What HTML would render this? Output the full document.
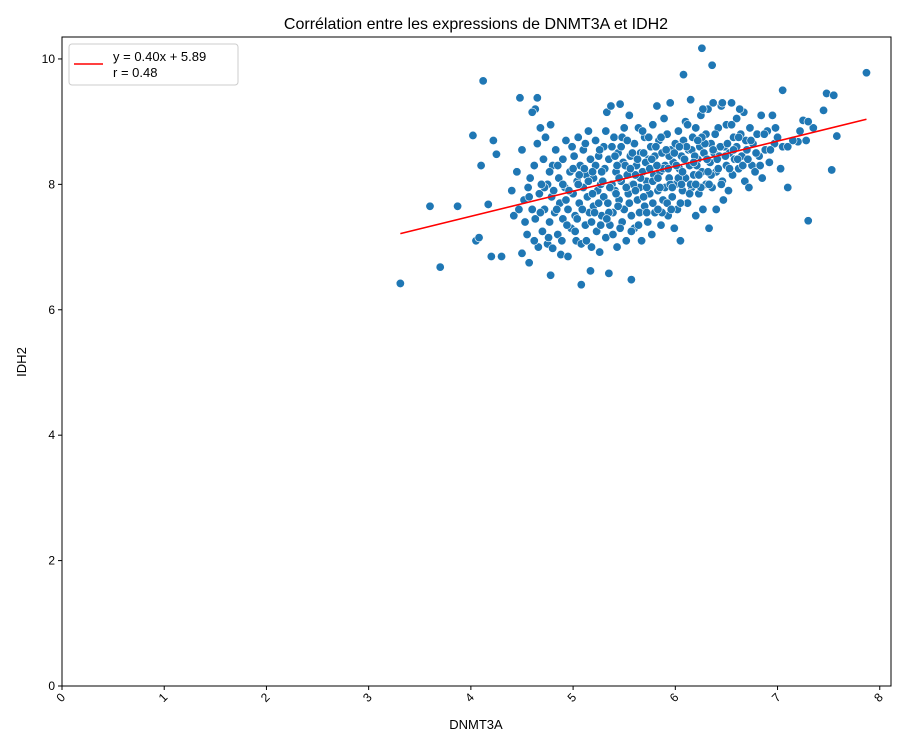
<!DOCTYPE html>
<html><head><meta charset="utf-8"><style>
html,body{margin:0;padding:0;background:#fff;width:906px;height:746px;overflow:hidden}
svg text{font-family:"Liberation Sans","DejaVu Sans",sans-serif;fill:#000}
</style></head><body>
<svg id="chart" width="906" height="746" xmlns="http://www.w3.org/2000/svg"></svg>
<script>
const xTicks=[0,1,2,3,4,5,6,7,8];
const yTicks=[0,2,4,6,8,10];
const slope=0.40, intercept=5.89, rValue=0.48;
const lineX=[3.31,7.87];
const pts=[[3.31,6.42],[3.6,7.65],[3.7,6.68],[3.87,7.65],[4.02,8.78],[4.05,7.1],[4.08,7.15],[4.1,8.3],[4.12,9.65],[4.17,7.68],[4.2,6.85],[4.22,8.7],[4.25,8.48],[4.3,6.85],[4.48,9.38],[4.63,9.2],[4.65,9.38],[4.78,6.55],[5.08,6.4],[5.17,6.62],[5.35,6.58],[5.57,6.48],[6.08,9.75],[6.26,10.17],[6.36,9.9],[7.05,9.5],[7.3,7.42],[7.1,7.95],[7.45,9.18],[7.48,9.45],[7.55,9.42],[7.53,8.23],[7.58,8.77],[7.87,9.78],[7.2,8.68],[7.25,9.02],[7.35,8.9],
[4.4,7.9],[4.42,7.5],[4.45,8.2],[4.47,7.6],[4.5,6.9],[4.5,8.55],[4.52,7.75],[4.55,7.2],[4.56,7.95],[4.57,6.75],[4.58,8.1],[4.6,7.6],[4.6,9.15],[4.62,8.3],[4.63,7.45],[4.65,8.65],[4.66,7.0],[4.67,7.85],[4.68,8.9],
[4.7,7.25],[4.71,8.4],[4.72,7.6],[4.73,8.75],[4.75,7.05],[4.75,8.0],[4.77,7.4],[4.78,8.95],[4.79,7.8],[4.8,8.3],[4.8,6.98],[4.82,7.55],[4.83,8.55],[4.85,7.2],[4.86,8.1],[4.87,7.7],[4.88,6.88],[4.9,8.4],[4.9,7.45],[4.92,7.95],[4.93,8.7],[4.95,6.85],[4.95,7.6],[4.97,8.2],[4.98,7.3],[4.99,8.6],
[5.0,7.85],[5.01,8.45],[5.02,7.5],[5.03,7.1],[5.04,8.05],[5.05,8.75],[5.06,7.7],[5.07,8.3],[5.08,7.05],[5.1,7.95],[5.1,8.55],[5.12,7.35],[5.13,8.15],[5.14,7.8],[5.15,8.85],[5.16,7.55],[5.17,8.4],[5.18,7.0],[5.2,8.1],[5.2,7.65],[5.22,8.7],[5.23,7.25],[5.24,7.9],[5.25,8.45],[5.26,6.92],[5.27,8.0],[5.28,7.5],[5.3,8.6],[5.3,7.8],[5.31,8.25],[5.32,7.15],[5.33,9.15],[5.34,7.7],[5.35,8.4],[5.36,7.35],[5.37,9.25],[5.38,8.0],[5.39,7.55],[5.4,8.75],[5.41,7.9],[5.42,8.2],[5.43,7.0],[5.44,8.5],[5.45,7.75],[5.46,9.28],[5.47,8.05],[5.48,7.4],[5.49,8.35],[5.5,7.6],[5.5,8.9],[5.52,7.1],[5.53,8.15],[5.54,7.85],[5.55,9.1],[5.56,8.45],[5.57,7.5],[5.58,8.0],[5.6,8.65],[5.6,7.3],[5.62,8.3],[5.63,7.75],[5.64,8.9],[5.65,7.95],[5.66,8.5],[5.67,7.1],[5.68,8.2],[5.7,7.65],[5.7,8.75],[5.72,8.05],[5.73,7.4],[5.74,8.4],[5.75,7.85],[5.76,8.6],[5.77,7.2],[5.78,8.95],[5.79,8.15],[5.8,7.55],[5.8,8.45],[5.82,9.25],[5.83,7.9],[5.84,8.7],[5.85,8.2],[5.86,7.35],[5.87,8.5],[5.88,7.75],[5.89,9.05],[5.9,8.3],[5.9,7.95],[5.92,8.8],[5.93,7.5],[5.94,8.1],[5.95,9.3],[5.96,8.55],[5.97,7.8],[5.98,8.35],[5.99,7.3],[6.0,8.65],[6.0,8.0],[6.02,7.6],[6.03,8.85],[6.04,8.25],[6.05,7.1],[6.06,8.45],[6.07,7.9],[6.08,8.7],[6.1,8.1],[6.1,9.0],[6.12,7.7],[6.13,8.55],[6.14,8.3],[6.15,9.35],[6.16,7.95],[6.17,8.75],[6.18,8.15],[6.2,7.5],[6.2,8.9],[6.22,8.4],[6.23,7.85],[6.24,8.6],[6.25,9.1],[6.26,8.2],[6.27,7.6],[6.28,8.5],[6.3,8.0],[6.3,8.8],[6.32,9.2],[6.33,7.3],[6.34,8.35],[6.35,8.65],[6.36,7.95],[6.37,9.3],[6.38,8.5],[6.4,7.6],[6.4,8.2],[6.42,8.9],[6.43,8.45],[6.45,9.25],[6.46,8.05],[6.47,7.75],[6.48,8.6],[6.5,8.3],[6.5,8.95],[6.52,7.9],[6.53,8.5],[6.55,9.3],[6.56,8.15],[6.57,8.75],[6.58,8.4],[6.6,9.05],[6.6,8.6],[6.62,8.25],[6.64,8.8],[6.65,8.45],[6.67,9.15],[6.68,8.05],[6.7,8.55],[6.72,7.95],[6.73,8.9],[6.75,8.3],[6.76,8.65],[6.78,8.2],[6.8,8.8],[6.82,8.45],[6.84,9.1],[6.85,8.1],[6.88,8.55],[6.9,8.85],[6.92,8.35],[6.95,9.1],[6.97,8.65],[7.0,8.75],[7.03,8.25],[7.05,8.6],[7.1,8.6],[7.15,8.7],[7.22,8.85],[7.28,8.7],[7.3,9.0],
[4.72,7.95],[4.84,7.6],[4.96,7.9],[5.04,7.45],[5.11,8.25],[5.19,7.85],[5.29,8.05],[5.36,7.95],[5.44,7.65],[5.51,8.3],[5.59,8.0],[5.66,8.1],[5.71,8.35],[5.78,8.05],[5.81,8.6],[5.88,8.25],[5.94,8.45],[6.01,8.3],[6.09,8.4],[6.16,8.55],[6.21,8.3],[6.29,8.65],[6.39,8.8],[6.44,8.6],[6.51,8.65],[6.61,8.4],[6.69,8.7],[5.15,8.05],[5.25,7.7],[5.35,7.55],[5.45,8.1],[5.55,7.7],[5.65,7.55],[5.75,8.25],[5.85,7.95],[5.95,8.0],[6.05,7.7],[6.15,8.0],[6.25,7.95],[6.35,8.15],[4.9,8.0],[5.05,8.0],[5.22,8.3],[5.38,8.6],[5.48,8.75],[5.58,8.5],[5.68,8.85],[5.78,7.7],[5.92,7.7],[6.12,8.95],[6.27,9.2],[6.46,9.3],[6.55,8.95],[6.63,9.2],
[4.62,7.1],[4.68,7.55],[4.76,7.15],[4.81,7.9],[4.89,7.1],[4.94,7.35],[5.02,7.25],[5.09,7.6],[5.13,7.1],[5.18,7.4],[5.21,7.55],[5.27,7.35],[5.33,7.45],[5.39,7.2],[5.42,7.85],[5.46,7.3],[5.52,7.95],[5.57,7.25],[5.61,7.9],[5.64,7.35],[5.69,7.8],[5.72,7.55],[5.77,8.4],[5.83,8.1],[5.87,7.55],[5.91,8.55],[5.96,7.6],[6.03,8.1],[6.07,8.2],[6.11,8.6],[6.14,7.85],[6.19,8.45],[6.23,8.15],[6.26,8.75],[6.31,8.4],[6.33,8.0],[6.37,8.55],[6.41,8.4],[6.45,8.0],[6.49,8.45],[6.53,8.25],[6.57,8.55],[6.62,8.75],[6.66,8.3],[6.71,8.4],[6.74,8.7],[6.79,8.5],[6.83,8.3],[6.87,8.8],[6.93,8.55],[6.98,8.9],[5.06,8.15],[5.12,8.65],[5.19,8.2],[5.26,8.55],[5.32,8.85],[5.41,8.45],[5.47,8.6],[5.53,8.7],[5.61,8.15],[5.69,8.5],[5.74,8.75],[5.82,8.3],[5.86,8.75],[5.93,8.25],[5.99,8.5],[6.04,8.6],[6.18,8.35],[6.22,8.7],[5.0,8.25],[4.93,7.75],[4.85,8.3],[4.77,8.2],[4.69,8.0],[4.57,7.8],[4.53,7.4],[5.28,8.2],[5.43,8.3],[5.56,8.25],[5.63,8.4],[5.72,7.95],[5.83,7.6],[5.97,7.95],[6.06,8.0],[6.2,8.0],[6.32,8.2],[6.42,8.25]];

const NS="http://www.w3.org/2000/svg";
const svg=document.getElementById('chart');
const L=62,R=891,T=37,B=686;
const xMax=8.11, yMax=10.35;
const sx=v=>L+v/xMax*(R-L);
const sy=v=>B-v/yMax*(B-T);
function mk(tag,attrs,parent){const e=document.createElementNS(NS,tag);for(const k in attrs)e.setAttribute(k,attrs[k]);(parent||svg).appendChild(e);return e;}

const t=mk('text',{x:476,y:29,'text-anchor':'middle','font-size':16});
t.textContent='Corrélation entre les expressions de DNMT3A et IDH2';



const pg=mk('g',{});


pts.forEach(p=>{
  const c=mk('circle',{cx:sx(p[0]),cy:sy(p[1]),r:4.2,fill:'#1f77b4',stroke:'#fff','stroke-width':0.6},pg);
  
  
});

const rl=mk('line',{x1:sx(lineX[0]),y1:sy(slope*lineX[0]+intercept),x2:sx(lineX[1]),y2:sy(slope*lineX[1]+intercept),stroke:'#ff0000','stroke-width':1.6});



const frame=mk('rect',{x:L,y:T,width:R-L,height:B-T,fill:'none',stroke:'#000','stroke-width':1});



xTicks.forEach(v=>{
  const x=sx(v);
  mk('line',{x1:x,y1:B,x2:x,y2:B+4,stroke:'#000'});
  const ax=x+4, ay=B+12;
  const tx=mk('text',{x:ax,y:ay,'font-size':12,'text-anchor':'end',transform:`rotate(-45 ${ax} ${ay})`});
  tx.textContent=v;
  
  
});
yTicks.forEach(v=>{
  const y=sy(v);
  mk('line',{x1:L-4,y1:y,x2:L,y2:y,stroke:'#000'});
  const ty=mk('text',{x:L-7,y:y+4,'font-size':12,'text-anchor':'end'});
  ty.textContent=v;
  
  
});
const xl=mk('text',{x:476,y:729,'font-size':13,'text-anchor':'middle'});
xl.textContent='DNMT3A';


const yl=mk('text',{x:26,y:362,'font-size':13,'text-anchor':'middle',transform:'rotate(-90 26 362)'});
yl.textContent='IDH2';



const lg=mk('g',{});


mk('rect',{x:69,y:44,width:169,height:41,rx:3,fill:'#fff','fill-opacity':0.8,stroke:'#ccc'},lg);
mk('line',{x1:74,y1:64,x2:103,y2:64,stroke:'#ff0000','stroke-width':1.6},lg);
const l1=mk('text',{x:113,y:61,'font-size':13},lg);
l1.textContent=`y = ${slope.toFixed(2)}x + ${intercept.toFixed(2)}`;


const l2=mk('text',{x:113,y:77,'font-size':13},lg);
l2.textContent=`r = ${rValue.toFixed(2)}`;


</script>
</body></html>
